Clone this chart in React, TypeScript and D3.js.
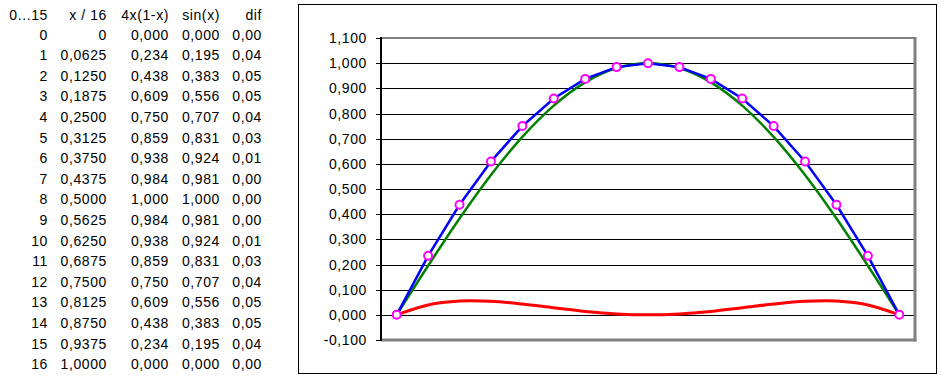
import React from "react";
import * as d3 from "d3";

const headers = ["0...15", "x / 16", "4x(1-x)", "sin(x)", "dif"];
const indices = [0, 1, 2, 3, 4, 5, 6, 7, 8, 9, 10, 11, 12, 13, 14, 15, 16];
const xFrac = [0, 0.0625, 0.125, 0.1875, 0.25, 0.3125, 0.375, 0.4375, 0.5, 0.5625, 0.625, 0.6875, 0.75, 0.8125, 0.875, 0.9375, 1];
const parabola = [0, 0.234375, 0.4375, 0.609375, 0.75, 0.859375, 0.9375, 0.984375, 1, 0.984375, 0.9375, 0.859375, 0.75, 0.609375, 0.4375, 0.234375, 0];
const sine = [0, 0.19509, 0.38268, 0.55557, 0.70711, 0.83147, 0.92388, 0.98079, 1, 0.98079, 0.92388, 0.83147, 0.70711, 0.55557, 0.38268, 0.19509, 0];
const dif = [0, 0.03928, 0.05482, 0.05381, 0.04289, 0.0279, 0.01362, 0.00359, 0, 0.00359, 0.01362, 0.0279, 0.04289, 0.05381, 0.05482, 0.03928, 0];
const yTicks = [-0.1, 0, 0.1, 0.2, 0.3, 0.4, 0.5, 0.6, 0.7, 0.8, 0.9, 1.0, 1.1];

const FONT = "'Liberation Sans', Arial, sans-serif";
const comma = (s: string) => s.replace(".", ",");

export default function App() {
  const W = 941, H = 380;
  const plot = { left: 381, right: 915, top: 38, bottom: 340 };

  const x = d3.scaleBand<number>().domain(indices).range([plot.left, plot.right]);
  const cx = (i: number) => (x(i) as number) + x.bandwidth() / 2;
  const y = d3.scaleLinear().domain([-0.1, 1.1]).range([plot.bottom, plot.top]);

  const linear = d3.line<number>().x((_, i) => cx(i)).y((d) => y(d)).curve(d3.curveLinear);
  const smooth = d3.line<number>().x((_, i) => cx(i)).y((d) => y(d)).curve(d3.curveCardinal.tension(0));

  const colRight = [48, 107, 169, 220, 262];
  const rowBase = (r: number) => 39.5 + r * 20.6;
  const textStyle = { fontFamily: FONT, fontSize: 14, letterSpacing: 0.6 } as const;

  const rows = indices.map((i) => [
    String(i),
    xFrac[i] === 0 ? "0" : comma(xFrac[i].toFixed(4)),
    comma(parabola[i].toFixed(3)),
    comma(sine[i].toFixed(3)),
    comma(dif[i].toFixed(2)),
  ]);

  return (
    <svg width={W} height={H} style={{ position: "absolute", left: 0, top: 0, background: "#fff" }}>
      <rect x={0} y={0} width={W} height={H} fill="#fff" />
      {/* table */}
      <g {...textStyle} fill="#000">
        {headers.map((h, c) => (
          <text key={"h" + c} x={colRight[c]} y={20} textAnchor="end">{h}</text>
        ))}
        {rows.map((row, r) =>
          row.map((cell, c) => (
            <text key={r + "-" + c} x={colRight[c]} y={rowBase(r)} textAnchor="end">{cell}</text>
          ))
        )}
      </g>
      {/* chart frame */}
      <rect x={298.5} y={4.5} width={638} height={369} fill="#fff" stroke="#000" strokeWidth={1} />
      {/* gridlines */}
      {yTicks.filter((t) => t > -0.05 && t < 1.05).map((t) => (
        <line key={"g" + t} x1={plot.left} x2={plot.right - 1} y1={Math.round(y(t)) + 0.5} y2={Math.round(y(t)) + 0.5} stroke="#000" strokeWidth={1} />
      ))}
      {/* plot border */}
      <line x1={plot.left} x2={plot.right + 1.5} y1={plot.top} y2={plot.top} stroke="#808080" strokeWidth={2} />
      <line x1={plot.right} x2={plot.right} y1={plot.top} y2={plot.bottom + 1.5} stroke="#808080" strokeWidth={3} />
      <line x1={plot.left} x2={plot.right + 1.5} y1={plot.bottom} y2={plot.bottom} stroke="#808080" strokeWidth={3} />
      <line x1={plot.left} x2={plot.left} y1={plot.top - 1} y2={plot.bottom + 1} stroke="#000" strokeWidth={2} />
      {/* ticks + labels */}
      {yTicks.map((t) => (
        <g key={"t" + t}>
          <line x1={plot.left - 5} x2={plot.left} y1={Math.round(y(t)) + 0.5} y2={Math.round(y(t)) + 0.5} stroke="#000" strokeWidth={1} />
          <text x={367} y={y(t) + 5} textAnchor="end" {...textStyle} fill="#000">
            {comma(t.toFixed(3))}
          </text>
        </g>
      ))}
      {/* series */}
      <path d={smooth(sine) || ""} fill="none" stroke="#008000" strokeWidth={2.5} />
      <path d={linear(parabola) || ""} fill="none" stroke="#0000FF" strokeWidth={2.5} />
      <path d={smooth(dif) || ""} fill="none" stroke="#FF0000" strokeWidth={3} />
      {parabola.map((v, i) => (
        <circle key={"m" + i} cx={cx(i)} cy={y(v)} r={4} fill="#fff" stroke="#FF00FF" strokeWidth={2} />
      ))}
    </svg>
  );
}
